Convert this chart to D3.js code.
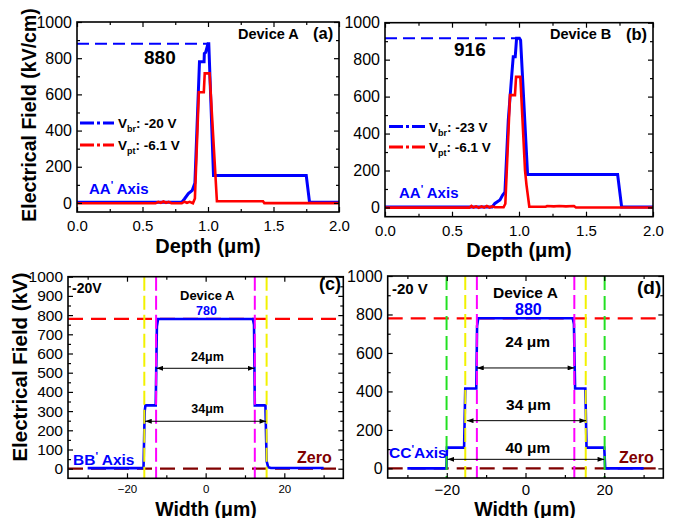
<!DOCTYPE html>
<html>
<head>
<meta charset="utf-8">
<script src="https://cdn.jsdelivr.net/npm/d3@7"></script>
<style>
  body { margin: 0; background: #fff; }
  svg { display: block; }
  text { font-family: "Liberation Sans", Arial, Helvetica, sans-serif; }
</style>
</head>
<body>
<svg id="fig" width="677" height="518"></svg>
<script>
// ---------- data ----------
// (a), (b): field along the AA' depth cut, [depth µm, field kV/cm]
const depthMajor = [0, 0.5, 1.0, 1.5, 2.0];
const depthMinor = [0.25, 0.75, 1.25, 1.75];
const fieldMajor = [0, 200, 400, 600, 800, 1000];
const fieldMinor = [100, 300, 500, 700, 900];

const devA_Vbr = [[0,4],[0.6,4],[0.8,4],[0.82,22],[0.85,52],[0.88,70],[0.9,110],[0.935,780],[0.97,780],[0.972,826],[0.982,832],[1.0,880],[1.006,880],[1.042,152],[1.75,152],[1.775,4],[2.0,4]];
const devA_Vpt = [[0,-2],[0.6,-2],[0.62,6],[0.64,1],[0.66,8],[0.68,1],[0.7,6],[0.72,-1],[0.8,-2],[0.82,7],[0.84,1],[0.86,6],[0.885,-2],[0.9,25],[0.93,612],[0.968,612],[0.975,716],[1.012,716],[1.068,9],[1.42,9],[1.43,-1],[2.0,-1]];
const devB_Vbr = [[0,3],[0.8,3],[0.82,22],[0.858,40],[0.878,67],[0.895,82],[0.92,473],[0.944,699],[0.957,816],[0.972,816],[0.982,916],[1.003,916],[1.012,905],[1.064,178],[1.736,178],[1.766,3],[2.0,3]];
const devB_Vpt = [[0,-1],[0.63,-1],[0.645,8],[0.66,0],[0.68,6],[0.7,-2],[0.72,6],[0.74,0],[0.76,8],[0.78,0],[0.8,6],[0.82,1],[0.885,1],[0.898,20],[0.933,608],[0.97,608],[0.978,707],[1.01,707],[1.045,200],[1.056,121],[1.077,4],[1.2,4],[1.21,8],[1.26,6],[1.3,8],[1.35,6],[1.41,8],[1.425,0],[2.0,0]];

// (c), (d): field along the lateral BB' / CC' cuts, [width µm, field kV]
const widthMajor = [-20, 0, 20];
const widthMinor = [-30, -10, 10, 30];
const fieldMajorC = [0, 100, 200, 300, 400, 500, 600, 700, 800, 900, 1000];
const fieldMinorC = [50, 150, 250, 350, 450, 550, 650, 750, 850, 950];

const devA_BB = [[-30,3],[-15.8,3],[-15.5,300],[-15.3,330],[-12.7,330],[-12.4,740],[-12.1,780],[12.0,780],[12.3,750],[12.5,330],[15.2,330],[15.5,40],[15.9,8],[16.6,4],[30,4]];
const devA_CC = [[-30,0],[-20.1,0],[-19.95,108],[-15.6,108],[-15.3,415],[-12.5,415],[-12.3,740],[-12.0,780],[12.0,780],[12.3,750],[12.6,415],[15.2,415],[15.5,108],[20.0,108],[20.25,0],[30,0]];

const plateauField = 780;
const guidesC = { yellow: [-15.6, 15.5], magenta: [-12.6, 12.5] };
const guidesD = { green: [-20.05, 20.1], yellow: [-15.3, 15.3], magenta: [-12.35, 12.4] };
const spansC = [{ from: -12.5, to: 12.4, at: 523, label: "24\u03bcm", ly: 560 },
                { from: -15.4, to: 15.4, at: 247, label: "34\u03bcm", ly: 289 }];
const spansD = [{ from: -12.3, to: 12.4, at: 522, label: "24 \u03bcm", ly: 630 },
                { from: -14.9, to: 15.4, at: 248, label: "34 \u03bcm", ly: 305 },
                { from: -19.8, to: 20.0, at: 47, label: "40 \u03bcm", ly: 78 }];

// ---------- drawing ----------
const svg = d3.select("#fig");
const defs = svg.append("defs");
defs.append("marker")
  .attr("id", "arr").attr("viewBox", "0 0 8 6")
  .attr("refX", 8).attr("refY", 3)
  .attr("markerWidth", 7).attr("markerHeight", 5)
  .attr("markerUnits", "userSpaceOnUse")
  .attr("orient", "auto-start-reverse")
  .append("path").attr("d", "M0,0L8,3L0,6Z").attr("fill", "#000");

let clipId = 0;
function makePanel(cfg) {
  const g = svg.append("g");
  const x = d3.scaleLinear().domain(cfg.xDomain).range(cfg.xRange);
  const y = d3.scaleLinear().domain([-50, 1000]).range(cfg.yRange);
  const id = "clip" + (clipId++);
  defs.append("clipPath").attr("id", id).append("rect")
    .attr("x", cfg.xRange[0]).attr("y", cfg.yRange[1])
    .attr("width", cfg.xRange[1] - cfg.xRange[0])
    .attr("height", cfg.yRange[0] - cfg.yRange[1]);
  const body = g.append("g").attr("clip-path", `url(#${id})`);

  const x0 = cfg.xRange[0], x1 = cfg.xRange[1], y0 = cfg.yRange[0], y1 = cfg.yRange[1];
  const axes = g.append("g");
  function styl(sel) { sel.select(".domain").remove(); sel.selectAll("line").attr("stroke", "#000").attr("stroke-width", 1.2); return sel; }
  // bottom
  axes.append("g").attr("transform", `translate(0,${y0})`)
    .call(d3.axisBottom(x).tickValues(cfg.xMajor).tickFormat(cfg.xFmt).tickSizeInner(-5).tickSizeOuter(0).tickPadding(cfg.xPad))
    .call(styl)
    .selectAll("text").attr("font-size", cfg.xFont).attr("fill", "#000").attr("font-family", "Liberation Sans, Arial, sans-serif");
  axes.append("g").attr("transform", `translate(0,${y0})`)
    .call(d3.axisBottom(x).tickValues(cfg.xMinor).tickFormat("").tickSizeInner(-3).tickSizeOuter(0)).call(styl);
  // top
  axes.append("g").attr("transform", `translate(0,${y1})`)
    .call(d3.axisTop(x).tickValues(cfg.xMajor).tickFormat("").tickSizeInner(-5).tickSizeOuter(0)).call(styl);
  axes.append("g").attr("transform", `translate(0,${y1})`)
    .call(d3.axisTop(x).tickValues(cfg.xMinor).tickFormat("").tickSizeInner(-3).tickSizeOuter(0)).call(styl);
  // left
  axes.append("g").attr("transform", `translate(${x0},0)`)
    .call(d3.axisLeft(y).tickValues(cfg.yMajor).tickFormat(d3.format("d")).tickSizeInner(-5).tickSizeOuter(0).tickPadding(5))
    .call(styl)
    .selectAll("text").attr("font-size", cfg.yFont).attr("fill", "#000").attr("font-family", "Liberation Sans, Arial, sans-serif");
  axes.append("g").attr("transform", `translate(${x0},0)`)
    .call(d3.axisLeft(y).tickValues(cfg.yMinor).tickFormat("").tickSizeInner(-3).tickSizeOuter(0)).call(styl);
  // right
  axes.append("g").attr("transform", `translate(${x1},0)`)
    .call(d3.axisRight(y).tickValues(cfg.yMajor).tickFormat("").tickSizeInner(-5).tickSizeOuter(0)).call(styl);
  axes.append("g").attr("transform", `translate(${x1},0)`)
    .call(d3.axisRight(y).tickValues(cfg.yMinor).tickFormat("").tickSizeInner(-3).tickSizeOuter(0)).call(styl);
  // frame
  g.append("rect").attr("x", x0).attr("y", y1).attr("width", x1 - x0).attr("height", y0 - y1)
    .attr("fill", "none").attr("stroke", "#000").attr("stroke-width", 1.6);
  return { g, body, x, y };
}

const line = (p) => d3.line().x(d => p.x(d[0])).y(d => p.y(d[1]));

function txt(parent, xp, yp, s, size, color, opts = {}) {
  return parent.append("text").attr("x", xp).attr("y", yp)
    .attr("font-size", size).attr("font-weight", opts.weight || "bold")
    .attr("fill", color).attr("text-anchor", opts.anchor || "start").text(s);
}

// label with a raised prime: "AA' Axis"
function primeLabel(parent, xp, yp, a, b, size, color) {
  const t = parent.append("text").attr("x", xp).attr("y", yp)
    .attr("font-size", size).attr("font-weight", "bold").attr("fill", color);
  t.append("tspan").text(a);
  t.append("tspan").attr("dy", -5).attr("font-size", size * 0.7).text("'");
  t.append("tspan").attr("dy", 5).text(b);
}

// legend entry with subscript
function legendEntry(parent, xa, xb, yl, main, sub, rest, color) {
  parent.append("line").attr("x1", xa).attr("x2", xb).attr("y1", yl).attr("y2", yl)
    .attr("stroke", color).attr("stroke-width", 3).attr("stroke-dasharray", "14,3,3,3");
  const t = parent.append("text").attr("x", xb + 4).attr("y", yl + 5)
    .attr("font-size", 13.5).attr("font-weight", "bold").attr("fill", "#000");
  t.append("tspan").text(main);
  t.append("tspan").attr("dy", 4).attr("font-size", 9).text(sub);
  t.append("tspan").attr("dy", -4).text(rest);
}

// ----- (a) Device A, depth cut -----
const pa = makePanel({ xDomain: [0, 2], xRange: [77, 339], yRange: [212, 22],
  xMajor: depthMajor, xMinor: depthMinor, yMajor: fieldMajor, yMinor: fieldMinor,
  xFmt: d3.format(".1f"), xFont: 15, yFont: 16, xPad: 8.5 });
pa.body.append("line").attr("x1", pa.x(0)).attr("x2", pa.x(1.0)).attr("y1", pa.y(880)).attr("y2", pa.y(880))
  .attr("stroke", "#0000ff").attr("stroke-width", 2).attr("stroke-dasharray", "12,6");
pa.body.append("path").datum(devA_Vbr).attr("d", line(pa)).attr("fill", "none").attr("stroke", "#0000ff").attr("stroke-width", 3);
pa.body.append("path").datum(devA_Vpt).attr("d", line(pa)).attr("fill", "none").attr("stroke", "#ff0000").attr("stroke-width", 2.6);
txt(pa.g, 144, 63.5, "880", 19, "#000");
txt(pa.g, 238, 38.5, "Device A", 14.5, "#000");
txt(pa.g, 313, 39, "(a)", 16.5, "#000");
legendEntry(pa.g, 80, 114, 123, "V", "br", ": -20 V", "#0000ff");
legendEntry(pa.g, 80, 114, 145, "V", "pt", ": -6.1 V", "#ff0000");
primeLabel(pa.g, 89, 193.5, "AA", " Axis", 15, "#0000ff");

// ----- (b) Device B, depth cut -----
const pb = makePanel({ xDomain: [0, 2], xRange: [385, 653], yRange: [216.7, 22.7],
  xMajor: depthMajor, xMinor: depthMinor, yMajor: fieldMajor, yMinor: fieldMinor,
  xFmt: d3.format(".1f"), xFont: 15, yFont: 16, xPad: 8.5 });
pb.body.append("line").attr("x1", pb.x(0)).attr("x2", pb.x(1.0)).attr("y1", pb.y(916)).attr("y2", pb.y(916))
  .attr("stroke", "#0000ff").attr("stroke-width", 2).attr("stroke-dasharray", "12,6");
pb.body.append("path").datum(devB_Vbr).attr("d", line(pb)).attr("fill", "none").attr("stroke", "#0000ff").attr("stroke-width", 3);
pb.body.append("path").datum(devB_Vpt).attr("d", line(pb)).attr("fill", "none").attr("stroke", "#ff0000").attr("stroke-width", 2.6);
txt(pb.g, 454, 56, "916", 19, "#000");
txt(pb.g, 550, 39, "Device B", 14.5, "#000");
txt(pb.g, 626, 39.5, "(b)", 16.5, "#000");
legendEntry(pb.g, 389, 425, 126.5, "V", "br", ": -23 V", "#0000ff");
legendEntry(pb.g, 389, 425, 147, "V", "pt", ": -6.1 V", "#ff0000");
primeLabel(pb.g, 399, 198, "AA", " Axis", 15, "#0000ff");

// ----- shared pieces for the lateral cuts -----
function guideLines(p, xs, color, dash) {
  xs.forEach(v => p.body.append("line").attr("x1", p.x(v)).attr("x2", p.x(v))
    .attr("y1", p.y.range()[1]).attr("y2", p.y.range()[0])
    .attr("stroke", color).attr("stroke-width", 2).attr("stroke-dasharray", dash));
}
function hGuide(p, v, color) {
  p.body.append("line").attr("x1", p.x.range()[0]).attr("x2", p.x.range()[1])
    .attr("y1", p.y(v)).attr("y2", p.y(v))
    .attr("stroke", color).attr("stroke-width", 2.2).attr("stroke-dasharray", "15,8");
}
function spans(p, list, size) {
  list.forEach(s => {
    p.g.append("line").attr("x1", p.x(s.from)).attr("x2", p.x(s.to)).attr("y1", p.y(s.at)).attr("y2", p.y(s.at))
      .attr("stroke", "#000").attr("stroke-width", 1)
      .attr("marker-start", "url(#arr)").attr("marker-end", "url(#arr)");
    txt(p.g, p.x((s.from + s.to) / 2) + 2, p.y(s.ly), s.label, size, "#000", { anchor: "middle" });
  });
}

// ----- (c) Device A, BB' cut -----
const pc = makePanel({ xDomain: [-35, 35], xRange: [68, 343.3], yRange: [478.3, 276.7],
  xMajor: widthMajor, xMinor: widthMinor, yMajor: fieldMajorC, yMinor: fieldMinorC,
  xFmt: d3.format("d"), xFont: 11.5, yFont: 15.5, xPad: 7 });
hGuide(pc, plateauField, "#ff0000");
hGuide(pc, 0, "#800000");
pc.body.append("path").datum(devA_BB).attr("d", line(pc)).attr("fill", "none").attr("stroke", "#0000ff").attr("stroke-width", 2.6);
guideLines(pc, guidesC.yellow, "#f2f200", "14,5");
guideLines(pc, guidesC.magenta, "#ff00ff", "14,5");
spans(pc, spansC, 12.5);
txt(pc.g, 72, 293, "-20V", 14, "#000");
txt(pc.g, 180, 299.5, "Device A", 13, "#000");
txt(pc.g, 196, 315, "780", 12.5, "#0000ff");
txt(pc.g, 319, 290, "(c)", 18, "#000");
primeLabel(pc.g, 73, 465, "BB", " Axis", 15.5, "#0000ff");
txt(pc.g, 297, 463, "Zero", 16, "#800000");

// ----- (d) Device A, CC' cut -----
const pd = makePanel({ xDomain: [-35, 35], xRange: [387.7, 663.3], yRange: [478, 276],
  xMajor: widthMajor, xMinor: widthMinor, yMajor: fieldMajor, yMinor: fieldMinor,
  xFmt: d3.format("d"), xFont: 15, yFont: 16, xPad: 6 });
hGuide(pd, plateauField, "#ff0000");
hGuide(pd, 0, "#800000");
pd.body.append("path").datum(devA_CC).attr("d", line(pd)).attr("fill", "none").attr("stroke", "#0000ff").attr("stroke-width", 2.6);
guideLines(pd, guidesD.green, "#22e022", "14,6");
guideLines(pd, guidesD.yellow, "#f2f200", "14,5");
guideLines(pd, guidesD.magenta, "#ff00ff", "14,5");
spans(pd, spansD, 15.5);
txt(pd.g, 392, 293.5, "-20 V", 15, "#000");
txt(pd.g, 493, 297.5, "Device A", 15.5, "#000");
txt(pd.g, 515, 315, "880", 16, "#0000ff");
txt(pd.g, 637, 294, "(d)", 19, "#000");
primeLabel(pd.g, 389, 457.5, "CC", "Axis", 15.5, "#0000ff");
txt(pd.g, 619, 462.5, "Zero", 16, "#800000");

// ----- axis titles -----
const mu = "\u03bc";
txt(svg, 208, 252.5, `Depth (${mu}m)`, 20, "#000", { anchor: "middle" });
txt(svg, 519, 257.2, `Depth (${mu}m)`, 20, "#000", { anchor: "middle" });
txt(svg, 206, 515.5, `Width (${mu}m)`, 19.5, "#000", { anchor: "middle" });
txt(svg, 525, 515.5, `Width (${mu}m)`, 19.5, "#000", { anchor: "middle" });
txt(svg, 0, 0, "Electrical Field (kV/cm)", 19.5, "#000", { anchor: "middle" })
  .attr("transform", "translate(36,115) rotate(-90)");
txt(svg, 0, 0, "Electrical Field (kV)", 20.5, "#000", { anchor: "middle" })
  .attr("transform", "translate(27,367) rotate(-90)");
</script>
</body>
</html>
